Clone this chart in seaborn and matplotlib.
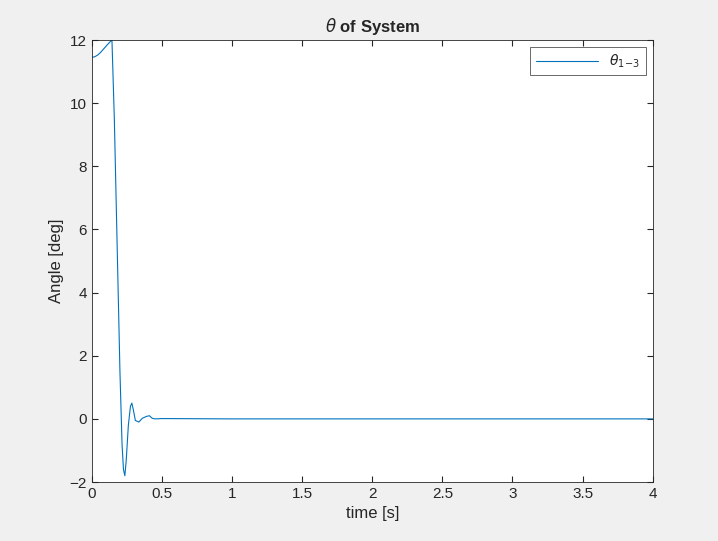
import pandas as pd
import seaborn as sns
import matplotlib
matplotlib.use("Agg")
import matplotlib.pyplot as plt

# angle, time [s] / theta [deg]
time_s = [0.0, 0.02, 0.04, 0.06, 0.08, 0.10, 0.12, 0.143, 0.16, 0.18, 0.20, 0.215,
          0.225, 0.235, 0.245, 0.26, 0.275, 0.285, 0.295, 0.31, 0.335, 0.36,
          0.39, 0.41, 0.43, 0.45, 0.5, 1.0, 2.0, 3.0, 4.0]
theta = [11.45, 11.47, 11.52, 11.6, 11.7, 11.8, 11.9, 12.0, 9.5, 5.5, 1.5, -0.8,
         -1.6, -1.8, -1.3, -0.2, 0.4, 0.5, 0.3, -0.05, -0.1, 0.02,
         0.08, 0.1, 0.02, 0.0, 0.01, 0.0, 0.0, 0.0, 0.0]

df = pd.DataFrame({"t": time_s, "theta": theta})

sns.set_style("white")
plt.rcParams['font.family'] = ['Liberation Sans', 'DejaVu Sans']

fig = plt.figure(figsize=(7.18, 5.41), dpi=100, facecolor="#f0f0f0")
ax = fig.add_axes([0.128, 0.109, 0.781, 0.817])
sns.lineplot(data=df, x="t", y="theta", ax=ax, color="#0072bd", linewidth=0.8,
             label=r"$\theta_{\mathrm{1\text{-}3}}$" if False else r"$\theta$$_{\rm 1\!-\!3}$")

ax.set_xlim(0, 4)
ax.set_ylim(-2, 12)
ax.set_xticks([0, 0.5, 1, 1.5, 2, 2.5, 3, 3.5, 4])
ax.set_xticklabels(["0", "0.5", "1", "1.5", "2", "2.5", "3", "3.5", "4"])
ax.set_yticks(range(-2, 13, 2))
ax.tick_params(direction="in", length=4, labelsize=11, colors="#262626",
               top=True, right=True, bottom=True, left=True)
for s in ax.spines.values():
    s.set_color("#262626")
    s.set_linewidth(0.6)
ax.set_xlabel("time [s]", fontsize=12, color="#262626")
ax.set_ylabel("Angle [deg]", fontsize=12, color="#262626")
ax.set_title(r"$\theta$ of System", fontsize=12, fontweight="bold")
leg = ax.legend(loc="upper right", frameon=True, fancybox=False, fontsize=10,
                handlelength=4.5)
leg.get_frame().set_edgecolor("#262626")
leg.get_frame().set_linewidth(0.6)

fig.savefig("out.png", dpi=100, facecolor=fig.get_facecolor())
